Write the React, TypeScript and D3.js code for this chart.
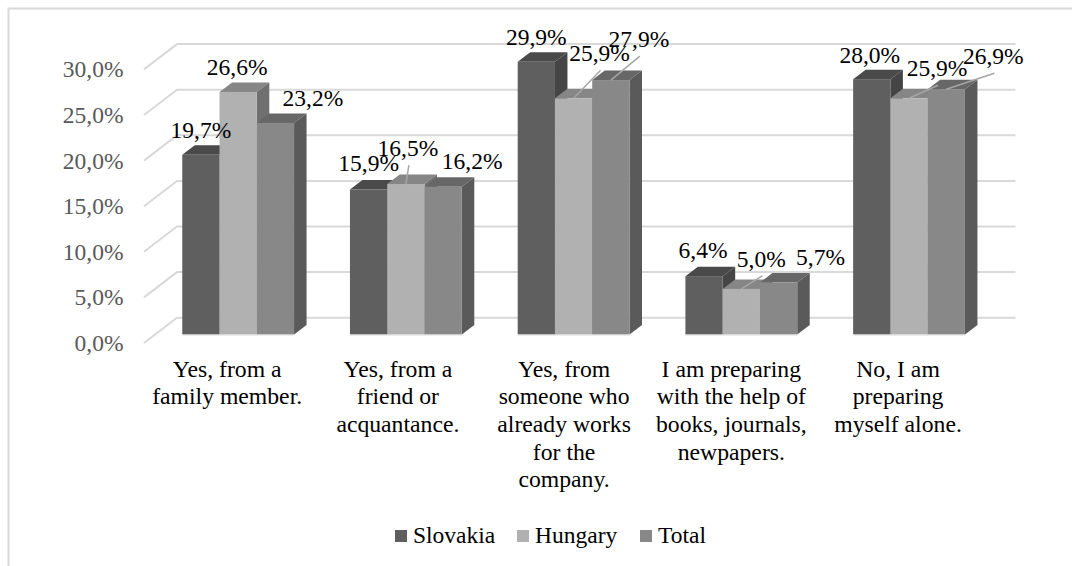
import React, { useEffect, useRef } from 'react';
import * as d3 from 'd3';

const categories = [
  ['Yes, from a', 'family member.'],
  ['Yes, from a', 'friend or', 'acquantance.'],
  ['Yes, from', 'someone who', 'already works', 'for the', 'company.'],
  ['I am preparing', 'with the help of', 'books, journals,', 'newpapers.'],
  ['No, I am', 'preparing', 'myself alone.'],
];
const seriesNames = ['Slovakia', 'Hungary', 'Total'];
const slovakia = [19.7, 15.9, 29.9, 6.4, 28.0];
const hungary = [26.6, 16.5, 25.9, 5.0, 25.9];
const total = [23.2, 16.2, 27.9, 5.7, 26.9];
const yTicks = [0, 5, 10, 15, 20, 25, 30];

// face colours of each series: front, top, side
const colours = [
  { front: '#5f5f5f', top: '#4a4a4a', side: '#454545' },
  { front: '#b1b1b1', top: '#868686', side: '#707070' },
  { front: '#888888', top: '#676767', side: '#5a5a5a' },
];

// data labels were dragged by hand in the original: [dx, dy, has leader line]
const labelNudge: [number, number, boolean][][] = [
  [[0, -17, false], [0, -18, false], [0, -17, false], [-1, -18.5, false], [-2, -16.5, false]],
  [[-1, -17, false], [2, -28, true], [26, -37, true], [20, -22, true], [28, -22, true]],
  [[37.5, -17, false], [29, -18, false], [28, -33, true], [42, -17.5, false], [47, -25, true]],
];
const categoryNudge = [-11, -8, -9.5, -10, -11];

const WIDTH = 1072;
const HEIGHT = 566;
const FONT = '"Liberation Serif", serif';
const FONT_SIZE = 23.5;

const App: React.FC = () => {
  const svgRef = useRef<SVGSVGElement | null>(null);

  useEffect(() => {
    if (!svgRef.current) return;
    const svg = d3.select(svgRef.current);
    svg.selectAll('*').remove();

    const frontZero = 343; // y of 0 at the front edge of the floor
    const wallDx = 33;
    const wallDy = 25.3;
    const barBase = 334.5;
    const barDx = 12.5;
    const barDy = 9.5;
    const pxPerUnit = 9.12;

    const y = d3.scaleLinear().domain([0, 30]).range([frontZero, frontZero - 30 * pxPerUnit]);
    const barY = d3.scaleLinear().domain([0, 30]).range([barBase, barBase - 30 * pxPerUnit]);

    const x0 = d3.scaleBand<number>()
      .domain(d3.range(categories.length))
      .range([154.3, 992.9])
      .paddingInner(1 / 3)
      .paddingOuter(1 / 6);
    const x1 = d3.scaleBand<number>()
      .domain(d3.range(seriesNames.length))
      .range([0, x0.bandwidth()]);

    // Outer frame
    svg.append('path')
      .attr('d', `M${WIDTH},8.5H8.5V${HEIGHT}`)
      .attr('fill', 'none')
      .attr('stroke', '#d9d9d9')
      .attr('stroke-width', 2);

    // Gridlines on wall and side wall
    const grid = svg.append('g').attr('fill', 'none').attr('stroke', '#d9d9d9').attr('stroke-width', 2);
    yTicks.forEach(t => {
      grid.append('path').attr(
        'd',
        `M144,${y(t)}L${144 + wallDx},${y(t) - wallDy}H1015.5`
      );
    });

    // Y axis labels
    svg.append('g')
      .selectAll('text')
      .data(yTicks)
      .enter().append('text')
      .attr('x', 123.5)
      .attr('y', d => y(d) + 8)
      .attr('text-anchor', 'end')
      .attr('font-family', FONT)
      .attr('font-size', FONT_SIZE)
      .attr('fill', '#595959')
      .text(d => `${d.toFixed(1).replace('.', ',')}%`);

    // Bars, back to front in series order
    const values = [slovakia, hungary, total];
    categories.forEach((_, c) => {
      values.forEach((series, s) => {
        const left = (x0(c) ?? 0) + (x1(s) ?? 0);
        const w = x1.bandwidth();
        const top = barY(series[c]);
        const g = svg.append('g');
        g.append('path')
          .attr('d', `M${left},${top}l${barDx},${-barDy}h${w}l${-barDx},${barDy}Z`)
          .attr('fill', colours[s].top);
        g.append('path')
          .attr('d', `M${left + w},${top}l${barDx},${-barDy}V${barBase - barDy}l${-barDx},${barDy}Z`)
          .attr('fill', colours[s].side);
        g.append('rect')
          .attr('x', left)
          .attr('y', top)
          .attr('width', w)
          .attr('height', barBase - top)
          .attr('fill', colours[s].front);
      });
      // light floor edge under each group
      svg.append('line')
        .attr('x1', x0(c) ?? 0)
        .attr('x2', (x0(c) ?? 0) + x0.bandwidth())
        .attr('y1', barBase + 0.5)
        .attr('y2', barBase + 0.5)
        .attr('stroke', '#d9d9d9')
        .attr('stroke-width', 1);
    });

    // Data labels with leader lines
    values.forEach((series, s) => {
      series.forEach((v, c) => {
        const cx = (x0(c) ?? 0) + (x1(s) ?? 0) + x1.bandwidth() / 2;
        const top = barY(v);
        const [dx, dy, leader] = labelNudge[s][c];
        if (leader) {
          svg.append('line')
            .attr('x1', cx)
            .attr('y1', top)
            .attr('x2', cx + dx + 1)
            .attr('y2', top + dy + 9)
            .attr('stroke', '#a6a6a6')
            .attr('stroke-width', 1.5);
        }
        svg.append('text')
          .attr('x', cx + dx)
          .attr('y', top + dy)
          .attr('text-anchor', 'middle')
          .attr('font-family', FONT)
          .attr('font-size', FONT_SIZE)
          .attr('fill', '#000')
          .text(`${v.toFixed(1).replace('.', ',')}%`);
      });
    });

    // Category labels
    categories.forEach((lines, c) => {
      const cx = (x0(c) ?? 0) + x0.bandwidth() / 2 + categoryNudge[c];
      const text = svg.append('text')
        .attr('text-anchor', 'middle')
        .attr('font-family', FONT)
        .attr('font-size', 23.7)
        .attr('fill', '#000');
      lines.forEach((line, i) => {
        text.append('tspan')
          .attr('x', cx)
          .attr('y', 376.7 + i * 27.6)
          .text(line);
      });
    });

    // Legend
    const legendSwatch = [395, 517, 640];
    const legend = svg.append('g');
    seriesNames.forEach((name, s) => {
      legend.append('rect')
        .attr('x', legendSwatch[s])
        .attr('y', 530)
        .attr('width', 12)
        .attr('height', 12)
        .attr('fill', colours[s].front);
      legend.append('text')
        .attr('x', legendSwatch[s] + 18)
        .attr('y', 543)
        .attr('font-family', FONT)
        .attr('font-size', FONT_SIZE)
        .attr('fill', '#000')
        .text(name);
    });
  }, []);

  return (
    <svg
      ref={svgRef}
      width={WIDTH}
      height={HEIGHT}
      style={{ position: 'absolute', left: 0, top: 0, display: 'block', background: '#fff' }}
    />
  );
};

export default App;
